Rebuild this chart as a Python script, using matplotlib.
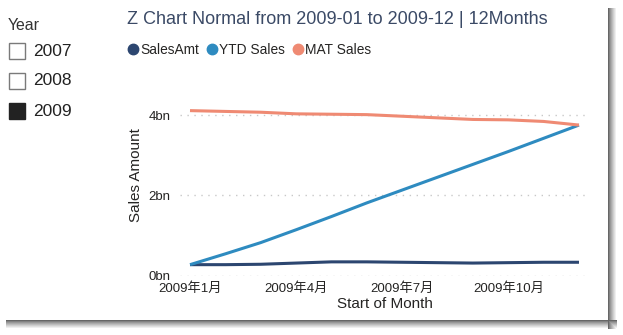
import numpy as np
import matplotlib
matplotlib.use("Agg")
import matplotlib.pyplot as plt
from matplotlib.patches import Rectangle
from matplotlib.lines import Line2D

plt.rcParams['font.family'] = ['Liberation Sans', 'Noto Sans CJK SC', 'DejaVu Sans']

# ---- data ----
months = ["2009年1月", "2009年2月", "2009年3月", "2009年4月", "2009年5月", "2009年6月",
          "2009年7月", "2009年8月", "2009年9月", "2009年10月", "2009年11月", "2009年12月"]
tick_months = ["2009年1月", "2009年4月", "2009年7月", "2009年10月"]
sales_amt = [0.27, 0.27, 0.28, 0.31, 0.34, 0.34, 0.33, 0.32, 0.31, 0.32, 0.33, 0.33]
ytd_sales = [0.27, 0.54, 0.82, 1.14, 1.47, 1.81, 2.13, 2.45, 2.77, 3.09, 3.42, 3.75]
mat_sales = [4.11, 4.09, 4.07, 4.03, 4.02, 4.01, 3.97, 3.93, 3.89, 3.88, 3.84, 3.75]
series_names = ["SalesAmt", "YTD Sales", "MAT Sales"]
series_colors = ["#2c4670", "#2e8bc0", "#ef8a73"]
yticks = [0, 2, 4]
ytick_labels = ["0bn", "2bn", "4bn"]
years = ["2007", "2008", "2009"]
years_selected = [False, False, True]

W, H = 623, 335
fig = plt.figure(figsize=(W / 100, H / 100), dpi=100)

# ---- background card with drop shadow ----
bg = fig.add_axes([0, 0, 1, 1], zorder=-10)
img = np.ones((H, W, 3))
card_r, card_b, sh = 608, 320, 9
for i in range(sh):
    v = 0.40 + 0.60 * (i / (sh - 1)) ** 0.8
    img[8:card_b + sh, card_r + i] = np.minimum(img[8:card_b + sh, card_r + i], v)
    img[card_b + i, 6:card_r + sh] = np.minimum(img[card_b + i, 6:card_r + sh], v)
img[:card_b, :card_r] = 1.0
bg.imshow(img, extent=[0, W, H, 0], aspect='auto', interpolation='nearest')
bg.set_xlim(0, W)
bg.set_ylim(H, 0)
bg.axis('off')

def fx(x):
    return x / W

def fy(y):
    return 1 - y / H

# ---- main axes ----
x0, x1 = 180, 585
y_bot, y_top = 275.5, 103
ax = fig.add_axes([fx(x0), fy(y_bot), (x1 - x0) / W, (y_bot - y_top) / H])
ax.set_facecolor('none')
xs = np.arange(len(months))
for vals, name, col in zip([sales_amt, ytd_sales, mat_sales], series_names, series_colors):
    ax.plot(xs, vals, color=col, lw=2.2, label=name, solid_capstyle='butt', zorder=3)

ax.set_xlim(-0.283, 11.17)
ax.set_ylim(0, 4.3)
ax.set_yticks(yticks)
ax.set_yticklabels(ytick_labels)
ax.set_xticks([months.index(m) for m in tick_months])
ax.set_xticklabels(tick_months)
ax.tick_params(axis='both', length=0, labelsize=9.5, colors='#252423')
ax.tick_params(axis='y', pad=7)
ax.tick_params(axis='x', pad=5)
for s in ax.spines.values():
    s.set_visible(False)
ax.grid(axis='y', color='#c8c8c8', linestyle=(0, (1, 4)), lw=1.0)
ax.set_axisbelow(True)
ax.set_ylabel("Sales Amount", fontsize=11, color='#252423', labelpad=4)
ax.yaxis.set_label_coords(-0.108, (y_bot - 175) / (y_bot - y_top))
ax.set_xlabel("Start of Month", fontsize=11, color='#252423', labelpad=1)
ax.xaxis.set_label_coords((385 - x0) / (x1 - x0), -(304 - y_bot) / (y_bot - y_top))
ax.xaxis.label.set_va('center')
ax.yaxis.label.set_va('center')

# ---- title ----
fig.text(fx(127), fy(20), "Z Chart Normal from 2009-01 to 2009-12 | 12Months",
         fontsize=13, color='#3b4a66', ha='left', va='center')

# ---- legend ----
handles = [Line2D([], [], marker='o', linestyle='', color=c, markersize=7.5)
           for c in series_colors]
fig.legend(handles, series_names, loc='center left', bbox_to_anchor=(fx(125), fy(50)),
           ncol=3, frameon=False, fontsize=9.9, handletextpad=-0.1, columnspacing=0.35,
           borderaxespad=0, borderpad=0, handlelength=1.2, labelcolor='#252423')

# ---- year slicer ----
fig.text(fx(8), fy(25), "Year", fontsize=11.4, color='#333333', ha='left', va='center')
for i, (yr, sel) in enumerate(zip(years, years_selected)):
    cy = 51 + 30 * i
    box = Rectangle((fx(9), fy(cy + 8)), 16 / W, 16 / H, transform=fig.transFigure,
                    facecolor='#222222' if sel else 'white',
                    edgecolor='#222222' if sel else '#7a7a7a', lw=1.0)
    fig.patches.append(box)
    fig.text(fx(33), fy(cy), yr, fontsize=12.5, color='#222222', ha='left', va='center')

fig.savefig("out.png", dpi=100)
